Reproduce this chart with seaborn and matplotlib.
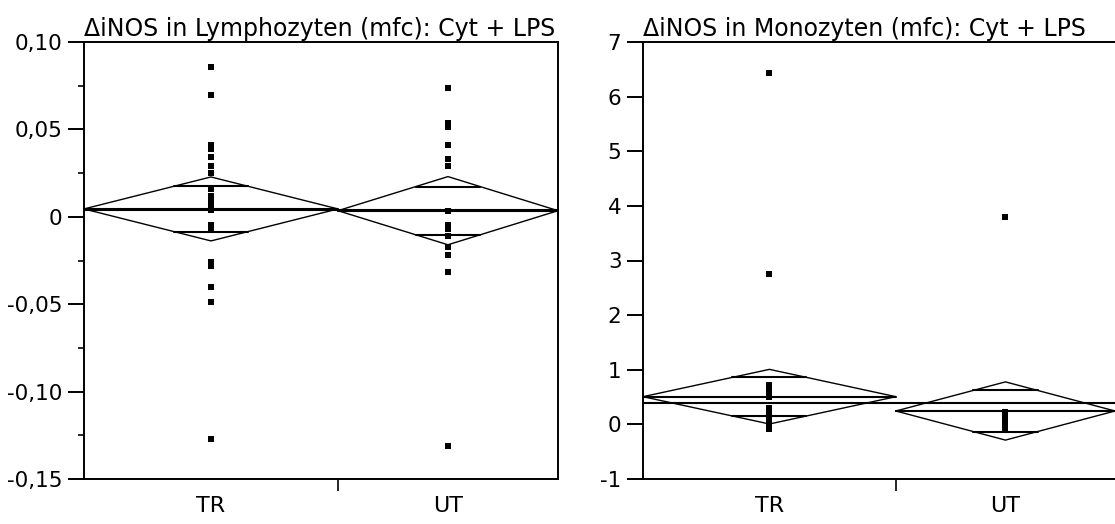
import numpy as np
import pandas as pd
import matplotlib
matplotlib.use("Agg")
import matplotlib.pyplot as plt
import seaborn as sns
from matplotlib.ticker import FixedLocator, FixedFormatter

# ---------------- data ----------------
groups = ["TR", "UT"]
group_n = [30, 26]

lym_title = "\u0394iNOS in Lymphozyten (mfc): Cyt + LPS"
lym_tr = [0.0856, 0.0696, 0.0412, 0.0389, 0.0341, 0.0290, 0.0250, 0.0160, 0.0120,
          0.0085, 0.0055, 0.0040, -0.0045, -0.0075, -0.0256, -0.0284, -0.0399,
          -0.0490, -0.1272]
lym_ut = [0.0736, 0.0536, 0.0513, 0.0412, 0.0330, 0.0288, 0.0036, -0.0048, -0.0070,
          -0.0109, -0.0170, -0.0217, -0.0316, -0.1310]
lym_mean = [0.0045, 0.0035]
lym_ci = [0.0183, 0.0195]
lym_grand = 0.0040
lym_ticks = [-0.15, -0.10, -0.05, 0.0, 0.05, 0.10]
lym_ticklabels = ["-0,15", "-0,10", "-0,05", "0", "0,05", "0,10"]
lym_minor = [-0.125, -0.075, -0.025, 0.025, 0.075]

mono_title = "\u0394iNOS in Monozyten (mfc): Cyt + LPS"
mono_tr = [6.43, 2.75, 0.72, 0.68, 0.58, 0.50, 0.30, 0.22, 0.14, 0.06, -0.02, -0.08]
mono_ut = [3.80, 0.23, 0.15, 0.08, 0.03, -0.03, -0.10]
mono_mean = [0.507, 0.245]
mono_ci = [0.50, 0.533]
mono_grand = 0.386
mono_ticks = [-1, 0, 1, 2, 3, 4, 5, 6, 7]
mono_ticklabels = ["-1", "0", "1", "2", "3", "4", "5", "6", "7"]

# ---------------- style ----------------
sns.set_theme(style="white")
plt.rcParams["font.family"] = ["DejaVu Sans"]
plt.rcParams["axes.edgecolor"] = "black"
plt.rcParams["axes.linewidth"] = 1.4

W, H = 1115, 524
fig = plt.figure(figsize=(W / 100, H / 100), dpi=100)
ax1 = fig.add_axes([84 / W, (H - 479) / H, 474 / W, 437 / H])
ax2 = fig.add_axes([643 / W, (H - 479) / H, 472 / W, 437 / H])

starts = np.concatenate([[0], np.cumsum(group_n)[:-1]])
centers = starts + np.array(group_n) / 2.0
total = float(sum(group_n))


def draw_panel(ax, tr, ut, means, cis, grand, title, ticks, ticklabels, ylim,
               minor=None, right_spine=True):
    df = pd.DataFrame({
        "group": ["TR"] * len(tr) + ["UT"] * len(ut),
        "value": list(tr) + list(ut),
    })
    df["xpos"] = df["group"].map(dict(zip(groups, centers)))
    sns.scatterplot(data=df, x="xpos", y="value", marker="s", color="black",
                    s=16, linewidth=0, ax=ax, zorder=3, legend=False)
    k = 1 - 1 / np.sqrt(2)
    for i in range(len(groups)):
        x0, x1, xc = starts[i], starts[i] + group_n[i], centers[i]
        m, c = means[i], cis[i]
        ax.plot([x0, xc, x1, xc, x0], [m, m + c, m, m - c, m], color="black",
                lw=1.0, zorder=2, solid_joinstyle="miter", clip_on=False)
        ax.plot([x0, x1], [m, m], color="black", lw=1.5, zorder=2)
        hw = group_n[i] / 2.0 * k
        d = c / np.sqrt(2)
        for yy in (m + d, m - d):
            ax.plot([xc - hw, xc + hw], [yy, yy], color="black", lw=1.5, zorder=2)
    ax.plot([0, total], [grand, grand], color="black", lw=1.5, zorder=2)

    ax.set_xlim(0, total)
    ax.set_ylim(*ylim)
    ax.yaxis.set_major_locator(FixedLocator(ticks))
    ax.yaxis.set_major_formatter(FixedFormatter(ticklabels))
    if minor is not None:
        ax.yaxis.set_minor_locator(FixedLocator(minor))
    ax.tick_params(axis="y", which="major", direction="out", length=11.5, width=1.4,
                   pad=4, labelsize=15.5, left=True, colors="black")
    ax.tick_params(axis="y", which="minor", direction="out", length=4.5, width=1.4,
                   left=True)
    # x axis: separator tick between groups, labels at group centers
    ax.xaxis.set_major_locator(FixedLocator(list(np.cumsum(group_n)[:-1])))
    ax.xaxis.set_major_formatter(FixedFormatter([""]))
    ax.xaxis.set_minor_locator(FixedLocator(list(centers)))
    ax.xaxis.set_minor_formatter(FixedFormatter(groups))
    ax.tick_params(axis="x", which="major", direction="out", length=8.5, width=1.4,
                   bottom=True)
    ax.tick_params(axis="x", which="minor", length=0, pad=12, labelsize=16,
                   bottom=True, colors="black")
    ax.set_xlabel("")
    ax.set_ylabel("")
    for s in ["top", "left", "bottom", "right"]:
        ax.spines[s].set_visible(True)
        ax.spines[s].set_color("black")
        ax.spines[s].set_linewidth(1.4)
    if not right_spine:
        ax.spines["right"].set_visible(False)
    ax.set_title(title, loc="left", fontsize=17, pad=4, color="black")


draw_panel(ax1, lym_tr, lym_ut, lym_mean, lym_ci, lym_grand, lym_title,
           lym_ticks, lym_ticklabels, (-0.15, 0.10), minor=lym_minor)
draw_panel(ax2, mono_tr, mono_ut, mono_mean, mono_ci, mono_grand, mono_title,
           mono_ticks, mono_ticklabels, (-1, 7), right_spine=False)

fig.savefig("out.png", dpi=100, facecolor="white")
